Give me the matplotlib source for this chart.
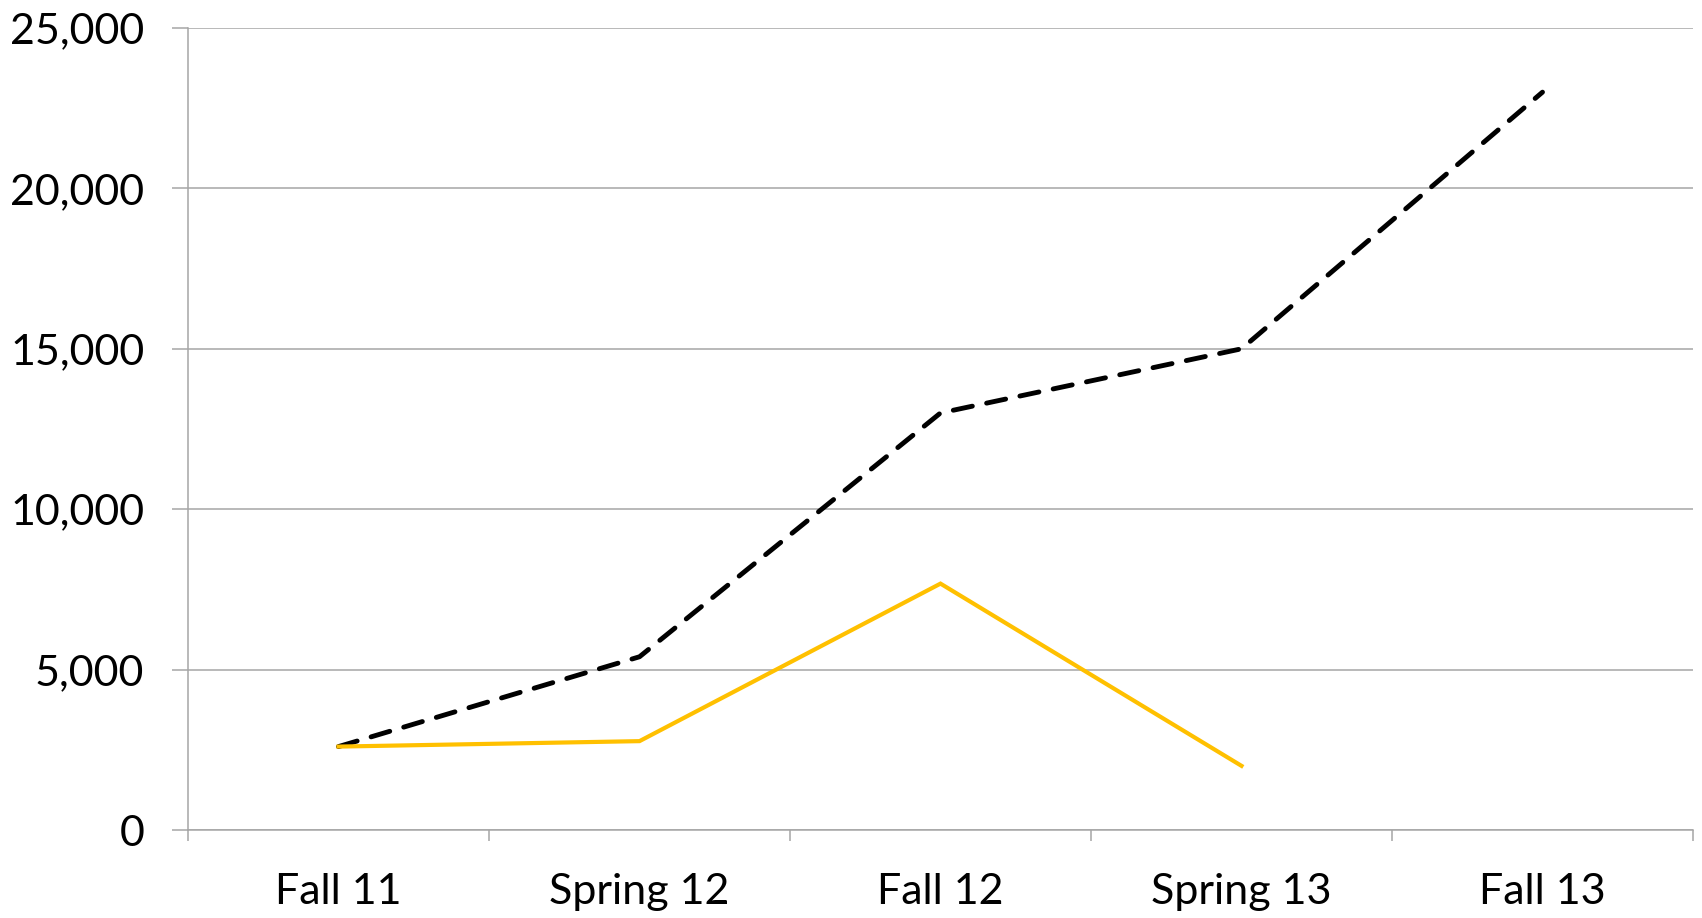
import numpy as np
import matplotlib
matplotlib.use("Agg")
import matplotlib.pyplot as plt
from matplotlib.ticker import FuncFormatter, FixedLocator

# chart data
semesters = ["Fall 11", "Spring 12", "Fall 12", "Spring 13", "Fall 13"]
dashed_values = [2600, 5400, 13000, 15000, 23000]
gold_values = [2600, 2770, 7680, 2000]

plt.rcParams['font.family'] = ['Lato', 'DejaVu Sans']

fig = plt.figure(figsize=(17.02, 9.18), dpi=100)
ax = fig.add_axes([188 / 1702, 1 - 830 / 918, (1693 - 188) / 1702, (830 - 28) / 918])

x = np.arange(len(semesters))
ax.plot(x, dashed_values, color='black', lw=3.5, linestyle=(0, (4, 3)),
        dash_capstyle='round', solid_joinstyle='round', zorder=3)
ax.plot(x[:len(gold_values)], gold_values, color='#FFC000', lw=3.0,
        solid_joinstyle='miter', zorder=3)

ax.set_xlim(-0.5, len(semesters) - 0.5)
ax.set_ylim(0, 25000)
ax.set_yticks(np.arange(0, 25001, 5000))
ax.yaxis.set_major_formatter(FuncFormatter(lambda v, p: f"{int(v):,}"))
ax.grid(axis='y', color='#A6A6A6', lw=1.1)
ax.set_axisbelow(True)

ax.set_xticks(x)
ax.set_xticklabels(semesters)
ax.xaxis.set_minor_locator(FixedLocator(np.arange(-0.5, len(semesters), 1.0)))
ax.tick_params(axis='x', which='major', length=0, pad=31, labelsize=31)
ax.tick_params(axis='x', which='minor', length=8, width=1.1, color='#A6A6A6')
ax.tick_params(axis='y', length=11.5, width=1.1, color='#A6A6A6', pad=20, labelsize=31)

for side in ['top', 'right']:
    ax.spines[side].set_visible(False)
for side in ['left', 'bottom']:
    ax.spines[side].set_color('#A6A6A6')
    ax.spines[side].set_linewidth(1.1)

fig.savefig('out.png', dpi=100)
